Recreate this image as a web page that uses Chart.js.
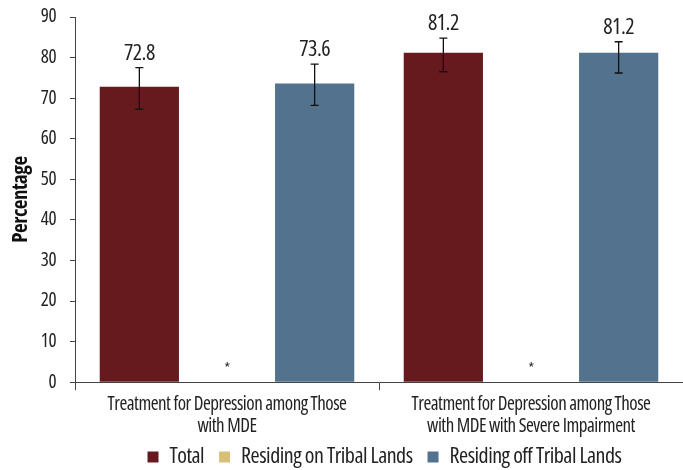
<!DOCTYPE html>
<html>
<head>
<meta charset="utf-8">
<script src="https://cdn.jsdelivr.net/npm/chart.js@4"></script>
<style>
html,body{margin:0;padding:0;background:#fff;}
#wrap{width:683px;height:470px;position:relative;}
</style>
</head>
<body>
<div id="wrap"><canvas id="c"></canvas></div>
<script>
const categories = [
  ["Treatment for Depression among Those", "with MDE"],
  ["Treatment for Depression among Those", "with MDE with Severe Impairment"]
];
const seriesNames = ["Total", "Residing on Tribal Lands", "Residing off Tribal Lands"];
const totalValues = [72.8, 81.2];
const tribalValues = [null, null];
const offTribalValues = [73.6, 81.2];
const totalLower = [67.3, 76.5];
const totalUpper = [77.5, 84.8];
const offLower = [68.2, 76.2];
const offUpper = [78.4, 83.9];
const suppressedMark = ["*", "*"];
const yTicks = [0, 10, 20, 30, 40, 50, 60, 70, 80, 90];

const FONT = "'Open Sans', 'Roboto Condensed', sans-serif";
const COND = 'condensed';
const SPACING = '-0.5px';
const PLOT_TOP = 17;

const spacingPlugin = {
  id: 'spacing',
  beforeUpdate(chart) { chart.ctx.letterSpacing = SPACING; },
  beforeLayout(chart) { chart.ctx.letterSpacing = SPACING; },
  afterLayout(chart) {
    chart.legend.left += 43;
    chart.legend.right += 43;
    chart.scales.x.bottom += 30;
    const ys = chart.scales.y;
    ys.top = PLOT_TOP;
    ys.height = ys.bottom - ys.top;
    ys.configure();
    chart.chartArea.top = PLOT_TOP;
    chart.chartArea.height = chart.chartArea.bottom - PLOT_TOP;
  },
  beforeDraw(chart) { chart.ctx.letterSpacing = SPACING; }
};

const errPlugin = {
  id: 'errAndLabels',
  afterDatasetsDraw(chart) {
    const ctx = chart.ctx;
    const y = chart.scales.y;
    ctx.save();
    ctx.letterSpacing = SPACING;
    chart.data.datasets.forEach((ds, di) => {
      const meta = chart.getDatasetMeta(di);
      meta.data.forEach((bar, i) => {
        const x = bar.x;
        if (ds.data[i] == null) {
          if (ds.mark) {
            ctx.fillStyle = '#222';
            ctx.font = 'condensed 14px ' + FONT;
            ctx.textAlign = 'center';
            ctx.textBaseline = 'alphabetic';
            ctx.fillText(ds.mark[i], x, y.getPixelForValue(0) - 9);
          }
          return;
        }
        let topY = bar.y;
        if (ds.lower) {
          const lo = y.getPixelForValue(ds.lower[i]);
          const hi = y.getPixelForValue(ds.upper[i]);
          ctx.strokeStyle = '#111';
          ctx.lineWidth = 1.3;
          ctx.beginPath();
          ctx.moveTo(x, lo); ctx.lineTo(x, hi);
          ctx.moveTo(x - 4, lo); ctx.lineTo(x + 4, lo);
          ctx.moveTo(x - 4, hi); ctx.lineTo(x + 4, hi);
          ctx.stroke();
          topY = Math.min(topY, hi);
        }
        ctx.fillStyle = '#222';
        ctx.font = 'condensed 22px ' + FONT;
        ctx.textAlign = 'center';
        ctx.textBaseline = 'alphabetic';
        ctx.fillText(ds.data[i].toFixed(1), x, topY - 8);
      });
    });
    ctx.restore();
  }
};

new Chart(document.getElementById('c'), {
  type: 'bar',
  data: {
    labels: categories,
    datasets: [
      { label: seriesNames[0], data: totalValues, backgroundColor: '#661A1E', lower: totalLower, upper: totalUpper },
      { label: seriesNames[1], data: tribalValues, backgroundColor: '#D8BF78', mark: suppressedMark },
      { label: seriesNames[2], data: offTribalValues, backgroundColor: '#52728E', lower: offLower, upper: offUpper }
    ]
  },
  options: {
    responsive: true,
    maintainAspectRatio: false,
    animation: false,
    devicePixelRatio: 1,
    layout: { padding: { top: -1, right: 0, left: 0, bottom: -8 } },
    datasets: { bar: { categoryPercentage: 0.865, barPercentage: 0.904 } },
    plugins: {
      tooltip: { enabled: false },
      legend: {
        position: 'bottom',
        labels: {
          boxWidth: 11, boxHeight: 11, padding: 15,
          color: '#222',
          font: { family: FONT, size: 22, weight: COND }
        }
      }
    },
    scales: {
      x: {
        offset: true,
        afterFit(scale) { scale.height -= 10; },
        grid: { offset: true, drawOnChartArea: false, drawTicks: true, tickLength: 8, color: '#444' },
        border: { color: '#444', width: 1 },
        ticks: { color: '#222', font: { family: FONT, size: 19, weight: COND, lineHeight: 1.18 }, maxRotation: 0, autoSkip: false, padding: 3 }
      },
      y: {
        min: 0, max: 90,
        afterBuildTicks(scale) { scale.ticks = yTicks.map(v => ({ value: v })); },
        afterFit(scale) { scale.width = 75; },
        grid: { drawOnChartArea: false, drawTicks: true, tickLength: 5, color: '#444' },
        border: { color: '#444', width: 1 },
        ticks: { color: '#222', font: { family: FONT, size: 19, weight: COND }, padding: 14 },
        title: { display: true, text: 'Percentage', color: '#111', font: { family: FONT, size: 21, weight: 'bold ' + COND, lineHeight: 1 }, padding: { top: 11, bottom: 0 } }
      }
    }
  },
  plugins: [spacingPlugin, errPlugin]
});
</script>
</body>
</html>
